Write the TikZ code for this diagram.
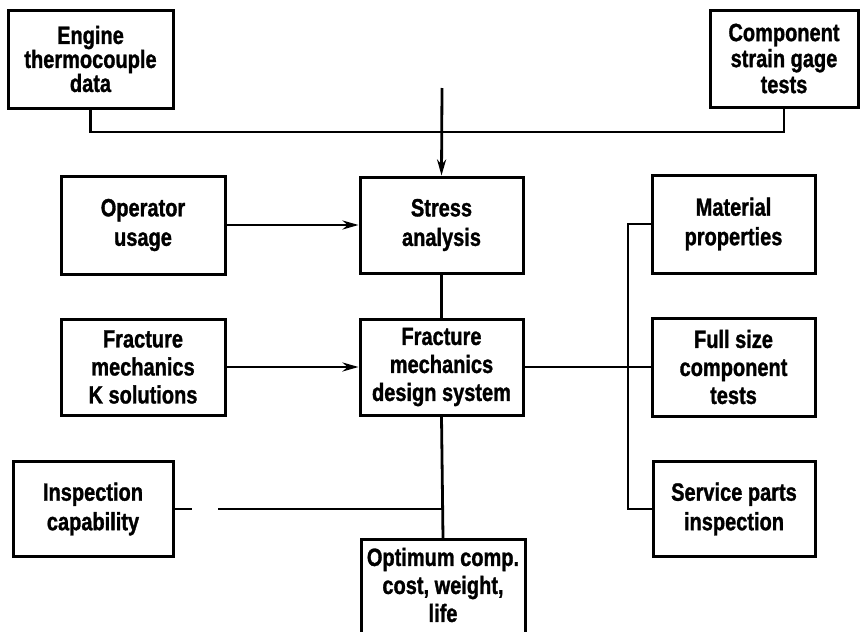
\documentclass[tikz,border=0pt]{standalone}
\usepackage{fontspec}
\setmainfont[FakeStretch=0.8, BoldFeatures={FakeBold=1.2}]{Liberation Sans}
\usetikzlibrary{arrows.meta}
\begin{document}
\begin{tikzpicture}[x=1pt,y=-1pt,
  blk/.style={draw, line width=3pt, inner sep=0pt, align=center,
    font=\fontsize{25}{28}\selectfont\bfseries},
  twoline/.style={font=\fontsize{25}{29.5}\selectfont\bfseries},
  txt/.style={inner sep=0pt, align=center,
    font=\fontsize{25}{28}\selectfont\bfseries},
  wire/.style={line width=2.8pt},
  feed/.style={wire, -{Stealth[length=16pt,width=9pt]}}]
\useasboundingbox (0,0) rectangle (860,632);

% input boxes along the top
\node[blk, minimum width=165, minimum height=98,
  font=\fontsize{25}{24}\selectfont\bfseries] (eng) at (90.5,59)
  {Engine\\thermocouple\\data};
\node[blk, minimum width=148, minimum height=97,
  font=\fontsize{25}{26}\selectfont\bfseries] (comp) at (784,58.5)
  {Component\\strain gage\\tests};

% left column
\node[blk, twoline, minimum width=164, minimum height=98] (oper) at (143,225) {Operator\\usage};
\node[blk, minimum width=164, minimum height=96] (frk) at (143,367) {Fracture\\mechanics\\K solutions};
\node[blk, twoline, minimum width=160, minimum height=95] (insp) at (93,509) {Inspection\\capability};

% central column
\node[blk, twoline, minimum width=163, minimum height=96] (stress) at (441.5,225) {Stress\\analysis};
\node[blk, minimum width=163, minimum height=96] (fmd) at (441.5,367) {Fracture\\mechanics\\design system};
\node[draw, line width=3pt, minimum width=164, minimum height=130, anchor=north] (optbox) at (443,538) {};
\node[txt] (opt) at (443,585) {Optimum comp.\\cost, weight,\\life};

% right column
\node[blk, twoline, minimum width=163, minimum height=98] (mat) at (733.5,224) {Material\\properties};
\node[blk, minimum width=163, minimum height=98] (full) at (733.5,367) {Full size\\component\\tests};
\node[blk, twoline, minimum width=162, minimum height=95] (serv) at (734,509) {Service parts\\inspection};

% collector above the stress analysis
\coordinate (j1) at (442,132);
\coordinate (top) at (442,88);
\draw[wire] (eng.south) |- (j1);
\draw[wire] (comp.south) |- (j1);
\draw[feed] (top) -- (stress.north);

% flows into the central column
\draw[feed] (oper.east) -- (stress.west);
\draw[feed] (frk.east) -- (fmd.west);
\draw[wire] (stress.south) -- (fmd.north);
\draw[wire] (fmd.south) -- (optbox.north);

% right-hand bus
\coordinate (bx) at (628,0);
\draw[wire] (fmd.east) -- (full.west);
\draw[wire] (mat.west) -- (mat.west -| bx) -- (serv.west -| bx) -- (serv.west);

% inspection line (broken)
\coordinate (g1) at (192,509);
\coordinate (g2) at (218,509);
\draw[wire] (insp.east) -- (g1);
\draw[wire] (g2) -- (g2 -| fmd.south);
\end{tikzpicture}
\end{document}
